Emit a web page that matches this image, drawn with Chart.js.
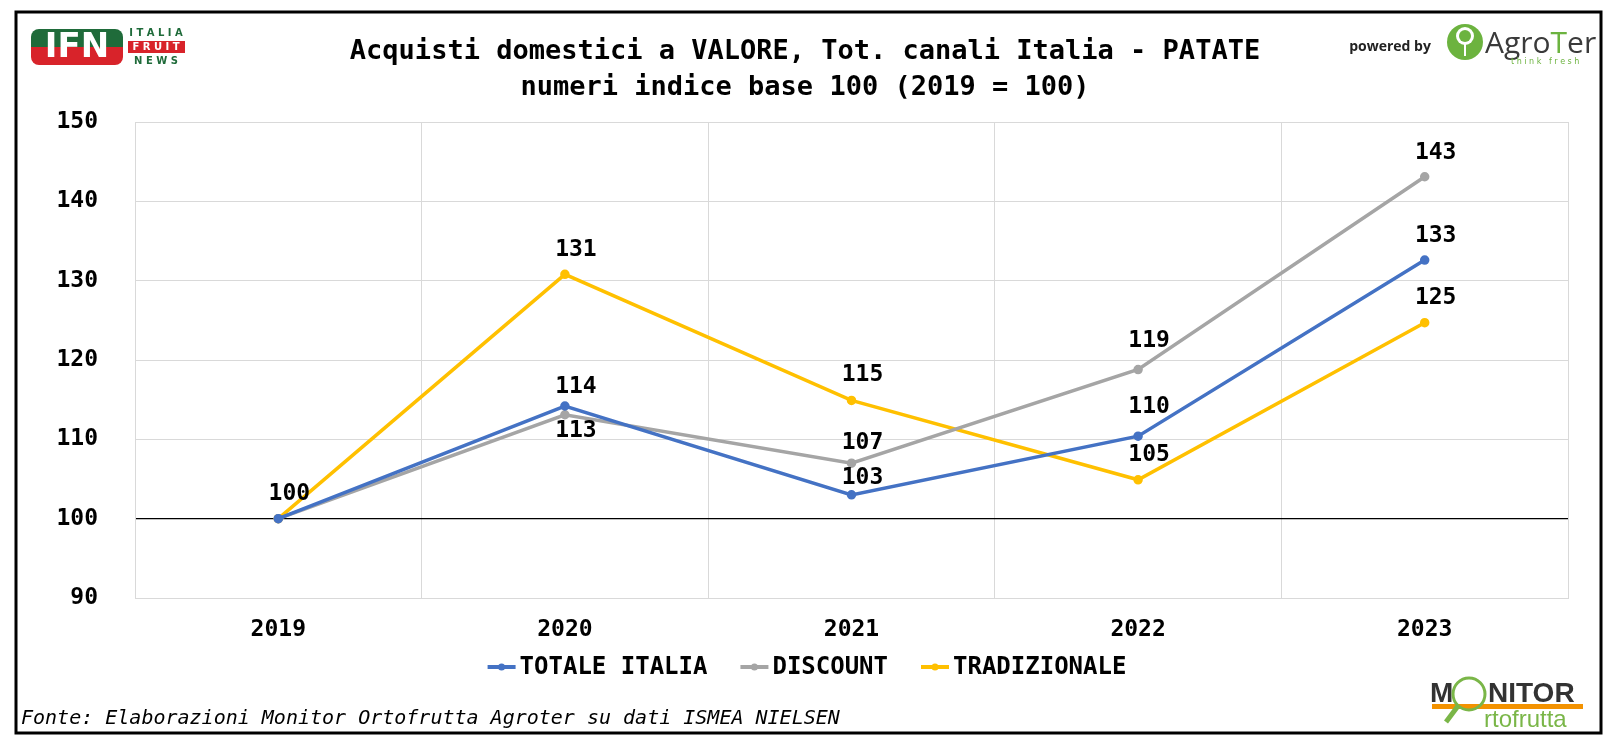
<!DOCTYPE html>
<html>
<head>
<meta charset="utf-8">
<script src="https://cdn.jsdelivr.net/npm/chart.js@4.4.1/dist/chart.umd.min.js"></script>
<style>
  html, body { margin: 0; padding: 0; background: #fff; }
  #wrap { width: 1617px; height: 747px; }
</style>
</head>
<body>
<div id="wrap"><canvas id="chart" width="1617" height="747"></canvas></div>
<script>
// values
let years = ['2019', '2020', '2021', '2022', '2023']
let totaleItalia = [100, 114.2, 103.0, 110.4, 132.6]
let discount = [100, 113.1, 107.0, 118.8, 143.1]
let tradizionale = [100, 130.8, 114.9, 104.9, 124.7]
let seriesNames = ['TOTALE ITALIA', 'DISCOUNT', 'TRADIZIONALE']
let seriesColors = ['#4472C4', '#A5A5A5', '#FFC000']

// where each value label sits relative to its point (null = no label)
let labelShift = [
  [-25, -19, -17, -29, -24],
  [null, 16, -20, -28, -24],
  [null, -24, -25, -25, -25]
]

let mono = '"DejaVu Sans Mono", "Liberation Mono", monospace'

let decorations = {
  id: 'decorations',
  afterDatasetsDraw(chart) {
    let ctx = chart.ctx
    ctx.save()
    ctx.font = `bold 23px ${mono}`
    ctx.fillStyle = '#000'
    ctx.textAlign = 'center'
    ctx.textBaseline = 'middle'
    chart.data.datasets.forEach((ds, i) => {
      let meta = chart.getDatasetMeta(i)
      meta.data.forEach((pt, j) => {
        let dy = labelShift[i][j]
        if (dy === null) return
        ctx.fillText(Math.round(ds.data[j]), pt.x + 11, pt.y + dy)
      })
    })
    ctx.restore()
  },
  afterDraw(chart) {
    let ctx = chart.ctx
    ctx.save()

    // outer frame
    ctx.strokeStyle = '#000'
    ctx.lineWidth = 3
    ctx.strokeRect(16, 12, 1585, 721)

    // title
    ctx.fillStyle = '#000'
    ctx.font = `bold 27px ${mono}`
    ctx.textAlign = 'center'
    ctx.textBaseline = 'middle'
    ctx.fillText('Acquisti domestici a VALORE, Tot. canali Italia - PATATE', 805, 52)
    ctx.fillText('numeri indice base 100 (2019 = 100)', 805, 88)

    // legend
    ctx.font = `bold 24px ${mono}`
    ctx.textAlign = 'left'
    let widths = chart.data.datasets.map(ds => 28 + 4 + ctx.measureText(ds.label).width)
    let total = widths.reduce((a, b) => a + b, 0) + 33 * (widths.length - 1)
    let x = 807 - total / 2
    let ly = 667
    chart.data.datasets.forEach((ds, i) => {
      ctx.strokeStyle = ds.borderColor
      ctx.lineWidth = 4
      ctx.beginPath()
      ctx.moveTo(x, ly)
      ctx.lineTo(x + 28, ly)
      ctx.stroke()
      ctx.fillStyle = ds.borderColor
      ctx.beginPath()
      ctx.arc(x + 14, ly, 3.5, 0, Math.PI * 2)
      ctx.fill()
      ctx.fillStyle = '#000'
      ctx.fillText(ds.label, x + 32, ly + 1)
      x += widths[i] + 33
    })

    // source
    ctx.font = `italic 20px ${mono}`
    ctx.fillStyle = '#000'
    ctx.fillText('Fonte: Elaborazioni Monitor Ortofrutta Agroter su dati ISMEA NIELSEN', 21, 719)

    // IFN logo
    ctx.beginPath()
    ctx.roundRect(31, 29, 92, 36, 8)
    ctx.save()
    ctx.clip()
    ctx.fillStyle = '#1f6b3a'
    ctx.fillRect(31, 29, 92, 18)
    ctx.fillStyle = '#d8232a'
    ctx.fillRect(31, 47, 92, 18)
    ctx.restore()
    ctx.fillStyle = '#fff'
    ctx.font = 'bold 34px "DejaVu Sans"'
    ctx.textAlign = 'center'
    ctx.fillText('IFN', 77, 48)
    ctx.font = 'bold 10px "DejaVu Sans"'
    ctx.fillStyle = '#1f6b3a'
    ctx.fillText('I T A L I A', 156, 33)
    ctx.fillStyle = '#d8232a'
    ctx.fillRect(128, 41, 57, 12)
    ctx.fillStyle = '#fff'
    ctx.fillText('F R U I T', 156, 47)
    ctx.fillStyle = '#1f6b3a'
    ctx.fillText('N E W S', 156, 61)

    // powered by AgroTer
    ctx.fillStyle = '#222'
    ctx.font = 'bold 14px "Open Sans"'
    ctx.fillText('powered by', 1390, 47)
    ctx.fillStyle = '#6cb33f'
    ctx.beginPath()
    ctx.arc(1465, 42, 18, 0, Math.PI * 2)
    ctx.fill()
    ctx.strokeStyle = '#fff'
    ctx.lineWidth = 2
    ctx.beginPath()
    ctx.moveTo(1465, 56)
    ctx.lineTo(1465, 40)
    ctx.stroke()
    ctx.fillStyle = '#fff'
    ctx.beginPath()
    ctx.arc(1465, 36, 9, 0, Math.PI * 2)
    ctx.fill()
    ctx.fillStyle = '#6cb33f'
    ctx.beginPath()
    ctx.arc(1465, 36, 6, 0, Math.PI * 2)
    ctx.fill()
    ctx.textAlign = 'left'
    ctx.font = '30px "Open Sans"'
    ctx.fillStyle = '#3a3a3a'
    ctx.fillText('Agro', 1485, 44)
    let w = ctx.measureText('Agro').width
    ctx.fillStyle = '#6cb33f'
    ctx.fillText('T', 1485 + w, 44)
    let w2 = ctx.measureText('T').width
    ctx.fillStyle = '#3a3a3a'
    ctx.fillText('er', 1485 + w + w2, 44)
    ctx.fillStyle = '#6cb33f'
    ctx.font = '8px "DejaVu Sans"'
    ctx.fillText('t h i n k   f r e s h', 1511, 62)

    // Monitor Ortofrutta logo
    ctx.fillStyle = '#f39200'
    ctx.fillRect(1432, 704, 151, 5)
    ctx.fillStyle = '#333'
    ctx.font = 'bold 28px "Liberation Sans Narrow", "Liberation Sans"'
    ctx.textBaseline = 'alphabetic'
    ctx.fillText('M', 1430, 702)
    ctx.fillText('NITOR', 1488, 702)
    ctx.strokeStyle = '#7ab648'
    ctx.lineWidth = 3
    ctx.beginPath()
    ctx.arc(1469, 694, 16, 0, Math.PI * 2)
    ctx.stroke()
    ctx.lineWidth = 5
    ctx.beginPath()
    ctx.moveTo(1458, 706)
    ctx.lineTo(1446, 722)
    ctx.stroke()
    ctx.fillStyle = '#7ab648'
    ctx.font = '24px "Liberation Sans Narrow", "Liberation Sans"'
    ctx.fillText('rtofrutta', 1484, 727)

    ctx.restore()
  }
}

let chart = new Chart(document.getElementById('chart').getContext('2d'), {
  type: 'line',
  data: {
    labels: years,
    datasets: [totaleItalia, discount, tradizionale].map((vals, i) => ({
      label: seriesNames[i],
      data: vals,
      borderColor: seriesColors[i],
      backgroundColor: seriesColors[i],
      pointBackgroundColor: seriesColors[i],
      pointBorderColor: seriesColors[i],
      borderWidth: 3.5,
      pointRadius: 3,
      tension: 0
    }))
  },
  options: {
    responsive: false,
    animation: false,
    devicePixelRatio: 1,
    layout: { padding: { left: 40, right: 49, top: 122, bottom: 89 } },
    plugins: {
      legend: { display: false },
      title: { display: false },
      tooltip: { enabled: false }
    },
    scales: {
      x: {
        offset: true,
        grid: { offset: true, color: '#d9d9d9', drawTicks: false },
        border: { color: '#d9d9d9' },
        ticks: { color: '#000', font: { family: mono, size: 23, weight: 'bold' }, padding: 18 },
        afterFit(s) { s.height = 60 }
      },
      y: {
        min: 90,
        max: 150,
        ticks: { stepSize: 10, color: '#000', font: { family: mono, size: 23, weight: 'bold' }, padding: 37 },
        grid: {
          drawTicks: false,
          color: c => (c.tick && c.tick.value === 100 ? '#000' : '#d9d9d9'),
          lineWidth: c => (c.tick && c.tick.value === 100 ? 1.3 : 1)
        },
        border: { color: '#d9d9d9' },
        afterFit(s) { s.width = 95 }
      }
    }
  },
  plugins: [decorations]
})
</script>
</body>
</html>
